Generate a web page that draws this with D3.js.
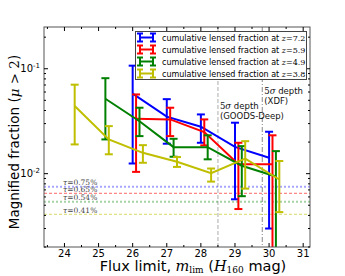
<!DOCTYPE html>
<html>
<head>
<meta charset="utf-8">
<script src="https://cdn.jsdelivr.net/npm/d3@7"></script>
<style>
body { margin: 0; background: #fff; }
text { font-family: "DejaVu Sans", sans-serif; }
.math { font-family: "DejaVu Serif", serif; font-style: italic; }
</style>
</head>
<body>
<svg></svg>
<script>
var width = 345;
var height = 276;

// series: magnitude limit, fraction, upper and lower error ends
var seriesNames = ["7.2", "5.9", "4.9", "3.8"];
var seriesColors = ["#0000ff", "#ff0000", "#008000", "#bfbf00"];

var blueX = [26, 27, 28, 29, 30];
var blueY = [0.058, 0.035, 0.028, 0.018, 0.0142];
var blueHi = [0.107, 0.0513, 0.0367, 0.0306, 0.0251];
var blueLo = [0.0125, 0.0193, 0.0197, 0.0057, 0.0030];

var redX = [26.1, 27.1, 28.1, 29.1, 30.1];
var redY = [0.0334, 0.0329, 0.0249, 0.0123, 0.0123];
var redHi = [0.0569, 0.0425, 0.0329, 0.0197, 0.0232];
var redLo = [0.0104, 0.0228, 0.0186, 0.0046, 0.001];

var greenX = [25.2, 26.2, 27.2, 28.2, 29.2, 30.2];
var greenY = [0.0518, 0.0316, 0.0179, 0.0179, 0.0119, 0.0094];
var greenHi = [0.0813, 0.0425, 0.0215, 0.0232, 0.0183, 0.0164];
var greenLo = [0.0212, 0.0228, 0.0145, 0.0137, 0.0061, 0.001];

var yellowX = [24.3, 25.3, 26.3, 27.3, 28.3, 29.3, 30.3];
var yellowY = [0.0441, 0.0212, 0.0158, 0.013, 0.0101, 0.0139, 0.0088];
var yellowHi = [0.0705, 0.0284, 0.0187, 0.0144, 0.0112, 0.0204, 0.0132];
var yellowLo = [0.019, 0.0153, 0.0127, 0.0116, 0.0084, 0.0072, 0.0043];

// optical depth lines
var tauLabels = ["0.75%", "0.65%", "0.54%", "0.41%"];
var tauValues = [0.0075, 0.0065, 0.0054, 0.0041];
var tauDash = ["2,2", "3,2", "2,2", "3,2"];
var tauWidth = [2, 1, 2, 1];
var tauAlpha = [0.35, 0.6, 0.35, 0.6];

// survey depth lines
var depthX = [28.5, 29.8];
var depthText = [["5\u03c3 depth", "(GOODS-Deep)"], ["5\u03c3 depth", "(XDF)"]];

var xTicks = [24, 25, 26, 27, 28, 29, 30, 31];

var series = [
  {x: blueX, y: blueY, hi: blueHi, lo: blueLo},
  {x: redX, y: redY, hi: redHi, lo: redLo},
  {x: greenX, y: greenY, hi: greenHi, lo: greenLo},
  {x: yellowX, y: yellowY, hi: yellowHi, lo: yellowLo}
];

var pLeft = 44, pRight = 310, pTop = 27, pBottom = 247;

var x = d3.scaleLinear().domain([23.4, 31.2]).range([pLeft, pRight]);
var y = d3.scaleLog().domain([0.002, 0.25]).range([pBottom, pTop]);

var svg = d3.select("svg")
  .attr("width", width)
  .attr("height", height);

svg.append("clipPath").attr("id", "clip")
  .append("rect")
  .attr("x", pLeft).attr("y", pTop)
  .attr("width", pRight - pLeft).attr("height", pBottom - pTop);

var plot = svg.append("g").attr("clip-path", "url(#clip)");

// depth lines
plot.selectAll(".depth")
  .data(depthX)
  .enter()
  .append("line")
  .attr("x1", function(d){ return x(d); })
  .attr("x2", function(d){ return x(d); })
  .attr("y1", pTop).attr("y2", pBottom)
  .attr("stroke", function(d, i){ return i == 0 ? "#c8c8c8" : "#888"; })
  .attr("stroke-width", function(d, i){ return i == 0 ? 1.5 : 1; })
  .attr("stroke-dasharray", function(d, i){ return i == 0 ? "4,2" : "5,2,1,2"; });

// tau lines
plot.selectAll(".tau")
  .data(tauValues)
  .enter()
  .append("line")
  .attr("x1", pLeft).attr("x2", pRight)
  .attr("y1", function(d){ return y(d); })
  .attr("y2", function(d){ return y(d); })
  .attr("stroke", function(d, i){ return seriesColors[i]; })
  .attr("stroke-opacity", function(d, i){ return tauAlpha[i]; })
  .attr("stroke-width", function(d, i){ return tauWidth[i]; })
  .attr("stroke-dasharray", function(d, i){ return tauDash[i]; });

tauLabels.forEach(function(t, i){
  var tt = svg.append("text")
    .attr("x", 63)
    .attr("y", y(tauValues[i]) - 1.5)
    .attr("font-size", 7.5)
    .attr("fill", "#444")
    .style("font-family", "DejaVu Serif, serif");
  tt.append("tspan").attr("font-style", "italic").text("\u03c4");
  tt.append("tspan").text("=" + t);
});

var line = d3.line()
  .x(function(d){ return x(d[0]); })
  .y(function(d){ return y(d[1]); });

series.forEach(function(s, k){
  var c = seriesColors[k];
  var pts = s.x.map(function(v, i){ return [v, s.y[i], s.hi[i], s.lo[i]]; });
  plot.append("path")
    .datum(pts)
    .attr("d", line)
    .attr("fill", "none")
    .attr("stroke", c)
    .attr("stroke-width", 2);
  var g = plot.append("g");
  g.selectAll(".bar")
    .data(pts)
    .enter()
    .append("line")
    .attr("x1", function(d){ return x(d[0]); })
    .attr("x2", function(d){ return x(d[0]); })
    .attr("y1", function(d){ return y(d[2]); })
    .attr("y2", function(d){ return y(d[3]); })
    .attr("stroke", c)
    .attr("stroke-width", 2);
  g.selectAll(".capHi")
    .data(pts)
    .enter()
    .append("line")
    .attr("x1", function(d){ return x(d[0]) - 4; })
    .attr("x2", function(d){ return x(d[0]) + 4; })
    .attr("y1", function(d){ return y(d[2]); })
    .attr("y2", function(d){ return y(d[2]); })
    .attr("stroke", c)
    .attr("stroke-width", 2);
  g.selectAll(".capLo")
    .data(pts)
    .enter()
    .append("line")
    .attr("x1", function(d){ return x(d[0]) - 4; })
    .attr("x2", function(d){ return x(d[0]) + 4; })
    .attr("y1", function(d){ return y(d[3]); })
    .attr("y2", function(d){ return y(d[3]); })
    .attr("stroke", c)
    .attr("stroke-width", 2);
});

// depth annotations
depthText.forEach(function(lines, i){
  var x0 = x(depthX[i]) + 2;
  var y0 = i == 0 ? 109 : 94;
  lines.forEach(function(t, j){
    var tt = svg.append("text")
      .attr("x", x0)
      .attr("y", y0 + j * 9.5)
      .attr("font-size", 8.5)
      .attr("fill", "#111");
    if (j == 0) {
      tt.append("tspan").style("font-family", "DejaVu Serif, serif").text("5");
      tt.append("tspan").style("font-family", "DejaVu Serif, serif").attr("font-style", "italic").text("\u03c3");
      tt.append("tspan").text(" depth");
    } else {
      tt.text(t);
    }
  });
});

// axes frame
svg.append("rect")
  .attr("x", pLeft).attr("y", pTop)
  .attr("width", pRight - pLeft).attr("height", pBottom - pTop)
  .attr("fill", "none")
  .attr("stroke", "#555")
  .attr("stroke-width", 1);

// x ticks (inward, both sides)
var xMinor = d3.range(23.5, 31.2, 0.5).filter(function(v){ return v % 1 != 0; });
var tickG = svg.append("g").attr("stroke", "#000").attr("stroke-width", 1);
[[xTicks, 4], [xMinor, 2]].forEach(function(p){
  p[0].forEach(function(v){
    tickG.append("line").attr("x1", x(v)).attr("x2", x(v)).attr("y1", pBottom).attr("y2", pBottom - p[1]);
    tickG.append("line").attr("x1", x(v)).attr("x2", x(v)).attr("y1", pTop).attr("y2", pTop + p[1]);
  });
});

svg.selectAll(".xlab")
  .data(xTicks)
  .enter()
  .append("text")
  .attr("x", function(d){ return x(d); })
  .attr("y", 257)
  .attr("text-anchor", "middle")
  .attr("font-size", 10)
  .text(function(d){ return d; });

// y ticks
var yMajor = [0.01, 0.1];
var yMinor = [];
[0.001, 0.01, 0.1].forEach(function(dec){
  for (var m = 2; m <= 9; m++) {
    var v = dec * m;
    if (v >= 0.002 && v <= 0.25) yMinor.push(v);
  }
});
[[yMajor, 4], [yMinor, 2]].forEach(function(p){
  p[0].forEach(function(v){
    tickG.append("line").attr("y1", y(v)).attr("y2", y(v)).attr("x1", pLeft).attr("x2", pLeft + p[1]);
    tickG.append("line").attr("y1", y(v)).attr("y2", y(v)).attr("x1", pRight).attr("x2", pRight - p[1]);
  });
});

yMajor.forEach(function(v){
  var e = Math.round(Math.log10(v));
  var t = svg.append("text")
    .attr("x", 40)
    .attr("y", y(v) + 3.5)
    .attr("text-anchor", "end")
    .attr("font-size", 10);
  t.append("tspan").text("10");
  t.append("tspan").attr("dy", -4).attr("font-size", 7).text("-" + (-e));
});

// axis labels
var xl = svg.append("text")
  .attr("x", 193)
  .attr("y", 271)
  .attr("text-anchor", "middle")
  .attr("font-size", 14.5);
xl.append("tspan").text("Flux limit, ");
xl.append("tspan").attr("class", "math").text("m");
xl.append("tspan").attr("font-size", 9).attr("dy", 2).style("font-family", "DejaVu Serif, serif").text("lim");
xl.append("tspan").attr("dy", -2).text(" (");
xl.append("tspan").attr("class", "math").text("H");
xl.append("tspan").attr("font-size", 9).attr("dy", 2).style("font-family", "DejaVu Serif, serif").text("160");
xl.append("tspan").attr("dy", -2).text(" mag)");

var yl = svg.append("text")
  .attr("transform", "translate(19,142) rotate(-90)")
  .attr("text-anchor", "middle")
  .attr("font-size", 13.5);
yl.append("tspan").text("Magnified fraction (");
yl.append("tspan").attr("class", "math").text("\u03bc");
yl.append("tspan").style("font-family", "DejaVu Serif, serif").text(" > 2");
yl.append("tspan").text(")");

// legend
var lg = svg.append("g");
lg.append("rect")
  .attr("x", 135.5).attr("y", 31.5)
  .attr("width", 171).attr("height", 48)
  .attr("fill", "#fff")
  .attr("stroke", "#444")
  .attr("stroke-width", 1);

seriesNames.forEach(function(z, i){
  var cy = 37.5 + i * 12;
  var c = seriesColors[i];
  var m = lg.append("g").attr("stroke", c).attr("stroke-width", 2);
  m.append("line").attr("x1", 140).attr("x2", 153).attr("y1", cy).attr("y2", cy);
  [140, 153].forEach(function(px){
    m.append("line").attr("x1", px).attr("x2", px).attr("y1", cy - 4).attr("y2", cy + 4);
    m.append("line").attr("x1", px - 3).attr("x2", px + 3).attr("y1", cy - 4).attr("y2", cy - 4);
    m.append("line").attr("x1", px - 3).attr("x2", px + 3).attr("y1", cy + 4).attr("y2", cy + 4);
  });
  var t = lg.append("text")
    .attr("x", 162)
    .attr("y", cy + 3)
    .attr("font-size", 8);
  t.append("tspan").text("cumulative lensed fraction at ");
  t.append("tspan").attr("class", "math").text("z");
  t.append("tspan").style("font-family", "DejaVu Serif, serif").text("=" + z);
});
</script>
</body>
</html>
